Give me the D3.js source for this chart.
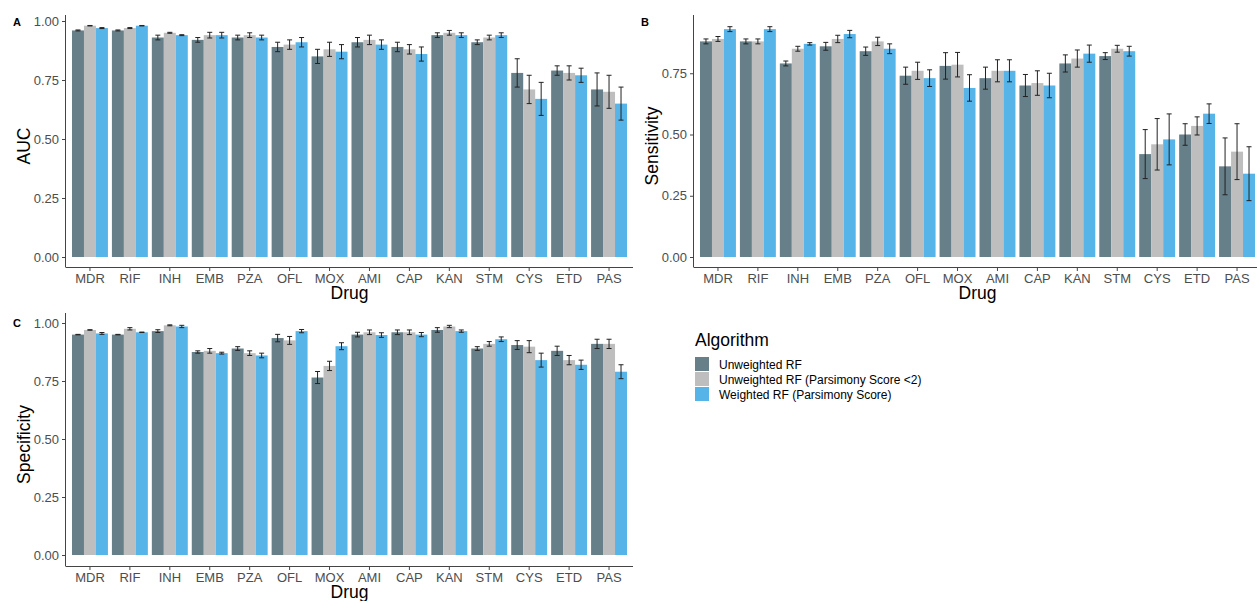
<!DOCTYPE html>
<html>
<head>
<meta charset="utf-8">
<script src="https://cdn.jsdelivr.net/npm/d3@7"></script>
<style>
  body { margin: 0; background: #fff; }
  svg { display: block; font-family: "Liberation Sans", Arial, sans-serif; }
  .tick text { fill: #4d4d4d; font-size: 13px; }
  .tick line { stroke: #444; }
  .axis-title { font-size: 17.5px; fill: #000; }
  .panel-tag { font-size: 11px; font-weight: bold; fill: #000; }
</style>
</head>
<body>
<div id="chart"></div>
<script>
const drugs = ["MDR", "RIF", "INH", "EMB", "PZA", "OFL", "MOX", "AMI", "CAP", "KAN", "STM", "CYS", "ETD", "PAS"];
const algorithms = ["Unweighted RF", "Unweighted RF (Parsimony Score <2)", "Weighted RF (Parsimony Score)"];
const algoColors = ["#667f88", "#bebebe", "#56b4e9"];

// AUC
const aucUnweighted    = [0.96, 0.96, 0.93, 0.92, 0.93, 0.89, 0.85, 0.91, 0.89, 0.94, 0.91, 0.78, 0.79, 0.71];
const aucUnweightedErr = [0.002, 0.002, 0.01, 0.01, 0.01, 0.02, 0.03, 0.02, 0.02, 0.01, 0.01, 0.06, 0.02, 0.07];
const aucParsimony     = [0.98, 0.97, 0.95, 0.94, 0.94, 0.90, 0.88, 0.92, 0.88, 0.95, 0.93, 0.71, 0.78, 0.70];
const aucParsimonyErr  = [0.001, 0.002, 0.002, 0.012, 0.01, 0.02, 0.03, 0.02, 0.02, 0.01, 0.01, 0.06, 0.03, 0.07];
const aucWeighted      = [0.97, 0.98, 0.94, 0.94, 0.93, 0.91, 0.87, 0.90, 0.86, 0.94, 0.94, 0.67, 0.77, 0.65];
const aucWeightedErr   = [0.002, 0.001, 0.002, 0.012, 0.01, 0.02, 0.03, 0.02, 0.03, 0.01, 0.01, 0.07, 0.03, 0.07];

// Sensitivity
const sensUnweighted    = [0.88, 0.88, 0.79, 0.86, 0.84, 0.74, 0.78, 0.73, 0.70, 0.79, 0.82, 0.42, 0.50, 0.37];
const sensUnweightedErr = [0.01, 0.01, 0.01, 0.016, 0.017, 0.035, 0.054, 0.045, 0.045, 0.035, 0.014, 0.10, 0.044, 0.116];
const sensParsimony     = [0.89, 0.88, 0.85, 0.89, 0.88, 0.76, 0.785, 0.76, 0.71, 0.81, 0.85, 0.46, 0.535, 0.43];
const sensParsimonyErr  = [0.01, 0.01, 0.01, 0.015, 0.017, 0.035, 0.05, 0.045, 0.05, 0.035, 0.014, 0.105, 0.037, 0.114];
const sensWeighted      = [0.93, 0.93, 0.87, 0.91, 0.85, 0.73, 0.69, 0.76, 0.70, 0.83, 0.84, 0.48, 0.585, 0.34];
const sensWeightedErr   = [0.01, 0.01, 0.005, 0.015, 0.02, 0.034, 0.054, 0.045, 0.05, 0.035, 0.02, 0.104, 0.04, 0.11];

// Specificity
const specUnweighted    = [0.95, 0.95, 0.965, 0.875, 0.89, 0.935, 0.765, 0.95, 0.96, 0.97, 0.89, 0.905, 0.88, 0.91];
const specUnweightedErr = [0.001, 0.001, 0.006, 0.005, 0.008, 0.016, 0.026, 0.01, 0.01, 0.01, 0.008, 0.019, 0.02, 0.02];
const specParsimony     = [0.97, 0.975, 0.99, 0.88, 0.87, 0.925, 0.815, 0.96, 0.96, 0.985, 0.91, 0.898, 0.84, 0.91];
const specParsimonyErr  = [0.001, 0.005, 0.002, 0.01, 0.01, 0.017, 0.02, 0.01, 0.01, 0.005, 0.01, 0.026, 0.02, 0.02];
const specWeighted      = [0.955, 0.96, 0.985, 0.87, 0.86, 0.965, 0.90, 0.948, 0.95, 0.965, 0.93, 0.84, 0.82, 0.79];
const specWeightedErr   = [0.004, 0.001, 0.005, 0.004, 0.01, 0.007, 0.015, 0.01, 0.009, 0.005, 0.01, 0.03, 0.02, 0.03];

const W = 1257, H = 601;
const svg = d3.select("#chart").append("svg").attr("width", W).attr("height", H);

function drawPanel(p) {
    const g = svg.append("g");
    const x = d3.scaleBand().domain(drugs).range([p.left, p.right]).paddingInner(0.1).paddingOuter(0.15);
    const xInner = d3.scaleBand().domain(algorithms).range([0, x.bandwidth()]);
    const y = d3.scaleLinear().domain([0, 1]).range([p.zeroY, p.oneY]);

    const rows = [];
    drugs.forEach((d, i) => {
        algorithms.forEach((a, k) => {
            rows.push({drug: d, algo: a, k: k, value: p.series[k][i], err: p.errors[k][i]});
        });
    });

    g.selectAll("rect.bar")
        .data(rows)
        .join("rect")
        .attr("class", "bar")
        .attr("x", d => x(d.drug) + xInner(d.algo))
        .attr("width", xInner.bandwidth())
        .attr("y", d => y(d.value))
        .attr("height", d => y(0) - y(d.value))
        .attr("fill", d => algoColors[d.k]);

    // error bars
    const cap = 2.5;
    const eb = g.selectAll("g.err").data(rows).join("g").attr("class", "err")
        .attr("stroke", "#222").attr("stroke-width", 1);
    eb.append("line")
        .attr("x1", d => x(d.drug) + xInner(d.algo) + xInner.bandwidth() / 2)
        .attr("x2", d => x(d.drug) + xInner(d.algo) + xInner.bandwidth() / 2)
        .attr("y1", d => y(d.value - d.err))
        .attr("y2", d => y(d.value + d.err));
    [-1, 1].forEach(s => {
        eb.append("line")
            .attr("x1", d => x(d.drug) + xInner(d.algo) + xInner.bandwidth() / 2 - cap)
            .attr("x2", d => x(d.drug) + xInner(d.algo) + xInner.bandwidth() / 2 + cap)
            .attr("y1", d => y(d.value + s * d.err))
            .attr("y2", d => y(d.value + s * d.err));
    });

    // axes
    g.append("g")
        .attr("transform", `translate(0,${p.bottom})`)
        .call(d3.axisBottom(x).tickSize(4).tickSizeOuter(0).tickPadding(3))
        .call(a => a.select(".domain").remove());
    g.append("g")
        .attr("transform", `translate(${p.left},0)`)
        .call(d3.axisLeft(y).tickValues(p.ticks).tickFormat(d3.format(".2f")).tickSize(4).tickPadding(3))
        .call(a => a.select(".domain").remove());
    g.append("line")
        .attr("x1", p.left).attr("x2", p.right)
        .attr("y1", p.bottom + 0.5).attr("y2", p.bottom + 0.5)
        .attr("stroke", "#444");
    g.append("line")
        .attr("x1", p.left - 0.5).attr("x2", p.left - 0.5)
        .attr("y1", p.top).attr("y2", p.bottom + 0.5)
        .attr("stroke", "#444");

    g.append("text")
        .attr("class", "axis-title")
        .attr("x", (p.left + p.right) / 2)
        .attr("y", p.bottom + 32)
        .attr("text-anchor", "middle")
        .text("Drug");
    g.append("text")
        .attr("class", "axis-title")
        .attr("transform", `translate(${p.left - 36},${(p.top + p.bottom) / 2 + 5}) rotate(-90)`)
        .attr("text-anchor", "middle")
        .text(p.yLabel);
    g.append("text")
        .attr("class", "panel-tag")
        .attr("x", p.left - 53)
        .attr("y", p.tagY)
        .text(p.tag);
}

drawPanel({
    tag: "A", yLabel: "AUC", left: 66, right: 633, top: 15, bottom: 267, zeroY: 257, oneY: 21, tagY: 26,
    ticks: [0, 0.25, 0.5, 0.75, 1],
    series: [aucUnweighted, aucParsimony, aucWeighted],
    errors: [aucUnweightedErr, aucParsimonyErr, aucWeightedErr]
});
drawPanel({
    tag: "B", yLabel: "Sensitivity", left: 694, right: 1261, top: 15, bottom: 267, zeroY: 257, oneY: 12, tagY: 26,
    ticks: [0, 0.25, 0.5, 0.75],
    series: [sensUnweighted, sensParsimony, sensWeighted],
    errors: [sensUnweightedErr, sensParsimonyErr, sensWeightedErr]
});
drawPanel({
    tag: "C", yLabel: "Specificity", left: 66, right: 633, top: 313, bottom: 566, zeroY: 555, oneY: 323, tagY: 327,
    ticks: [0, 0.25, 0.5, 0.75, 1],
    series: [specUnweighted, specParsimony, specWeighted],
    errors: [specUnweightedErr, specParsimonyErr, specWeightedErr]
});

// legend
const legend = svg.append("g").attr("transform", "translate(695,0)");
legend.append("text")
    .attr("x", 0).attr("y", 346)
    .style("font-size", "17.5px")
    .text("Algorithm");
const items = legend.selectAll("g.item").data(algorithms).join("g")
    .attr("class", "item")
    .attr("transform", (d, i) => `translate(0,${357 + i * 15})`);
items.append("rect")
    .attr("width", 14).attr("height", 14)
    .attr("fill", (d, i) => algoColors[i]);
items.append("text")
    .attr("x", 24).attr("y", 11.5)
    .style("font-size", "12px")
    .text(d => d);
</script>
</body>
</html>
